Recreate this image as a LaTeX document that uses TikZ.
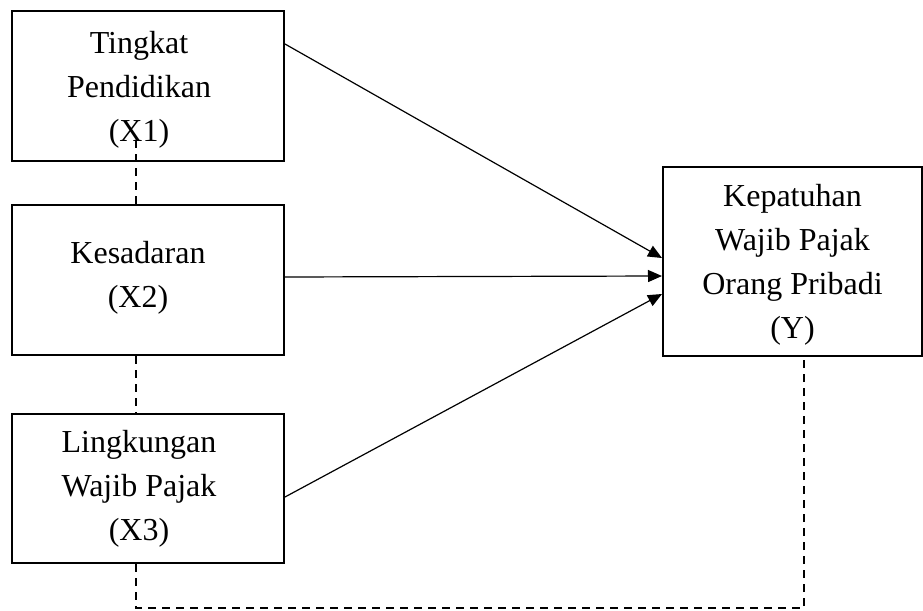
\documentclass[tikz,border=0pt]{standalone}
\usepackage{fontspec}
\setmainfont{Liberation Serif}
\usetikzlibrary{arrows.meta}
\begin{document}
\begin{tikzpicture}[x=0.5pt, y=-0.5pt, >={Triangle[length=7pt,width=6pt]},
  box/.style={draw, line width=1pt, inner sep=0pt},
  lbl/.style={align=center, font=\fontsize{16}{22}\selectfont},
  dash line/.style={line width=0.75pt, dash pattern=on 4pt off 3pt}]
  \useasboundingbox (0,0) rectangle (923,611);
  % variables
  \node[box, minimum width=136pt, minimum height=75pt] (x1) at (148,86) {};
  \node[box, minimum width=136pt, minimum height=75pt] (x2) at (148,280) {};
  \node[box, minimum width=136pt, minimum height=74.5pt] (x3) at (148,488.5) {};
  \node[box, minimum width=129.5pt, minimum height=94.5pt] (y) at (792.5,261.5) {};
  \node[lbl] (x1t) at ([xshift=-4.5pt,yshift=-2pt]x1) {Tingkat\\Pendidikan\\(X1)};
  \node[lbl] (x2t) at ([xshift=-5pt,yshift=1pt]x2) {Kesadaran\\(X2)};
  \node[lbl] (x3t) at ([xshift=-4.5pt]x3) {Lingkungan\\Wajib Pajak\\(X3)};
  \node[lbl] (yt) at ([yshift=-1.5pt]y) {Kepatuhan\\Wajib Pajak\\Orang Pribadi\\(Y)};
  % arrows
  \draw[->, line width=0.6pt] ([yshift=-17pt]x1.north east) -- ([yshift=1.75pt]y.west);
  \draw[->, line width=0.6pt] ([yshift=1.5pt]x2.east) -- ([yshift=-7.25pt]y.west);
  \draw[->, line width=0.6pt] ([yshift=-4.25pt]x3.east) -- ([yshift=-16.25pt]y.west);
  % dashed links
  \coordinate (d1) at (136,140);
  \draw[dash line] (d1) -- ([xshift=-6pt]x2.north);
  \draw[dash line] ([xshift=-6pt]x2.south) -- ([xshift=-6pt]x3.north);
  \draw[dash line] ([xshift=-6pt]x3.south) -- ++(0,44) -| ([xshift=5.75pt]y.south);
\end{tikzpicture}
\end{document}
